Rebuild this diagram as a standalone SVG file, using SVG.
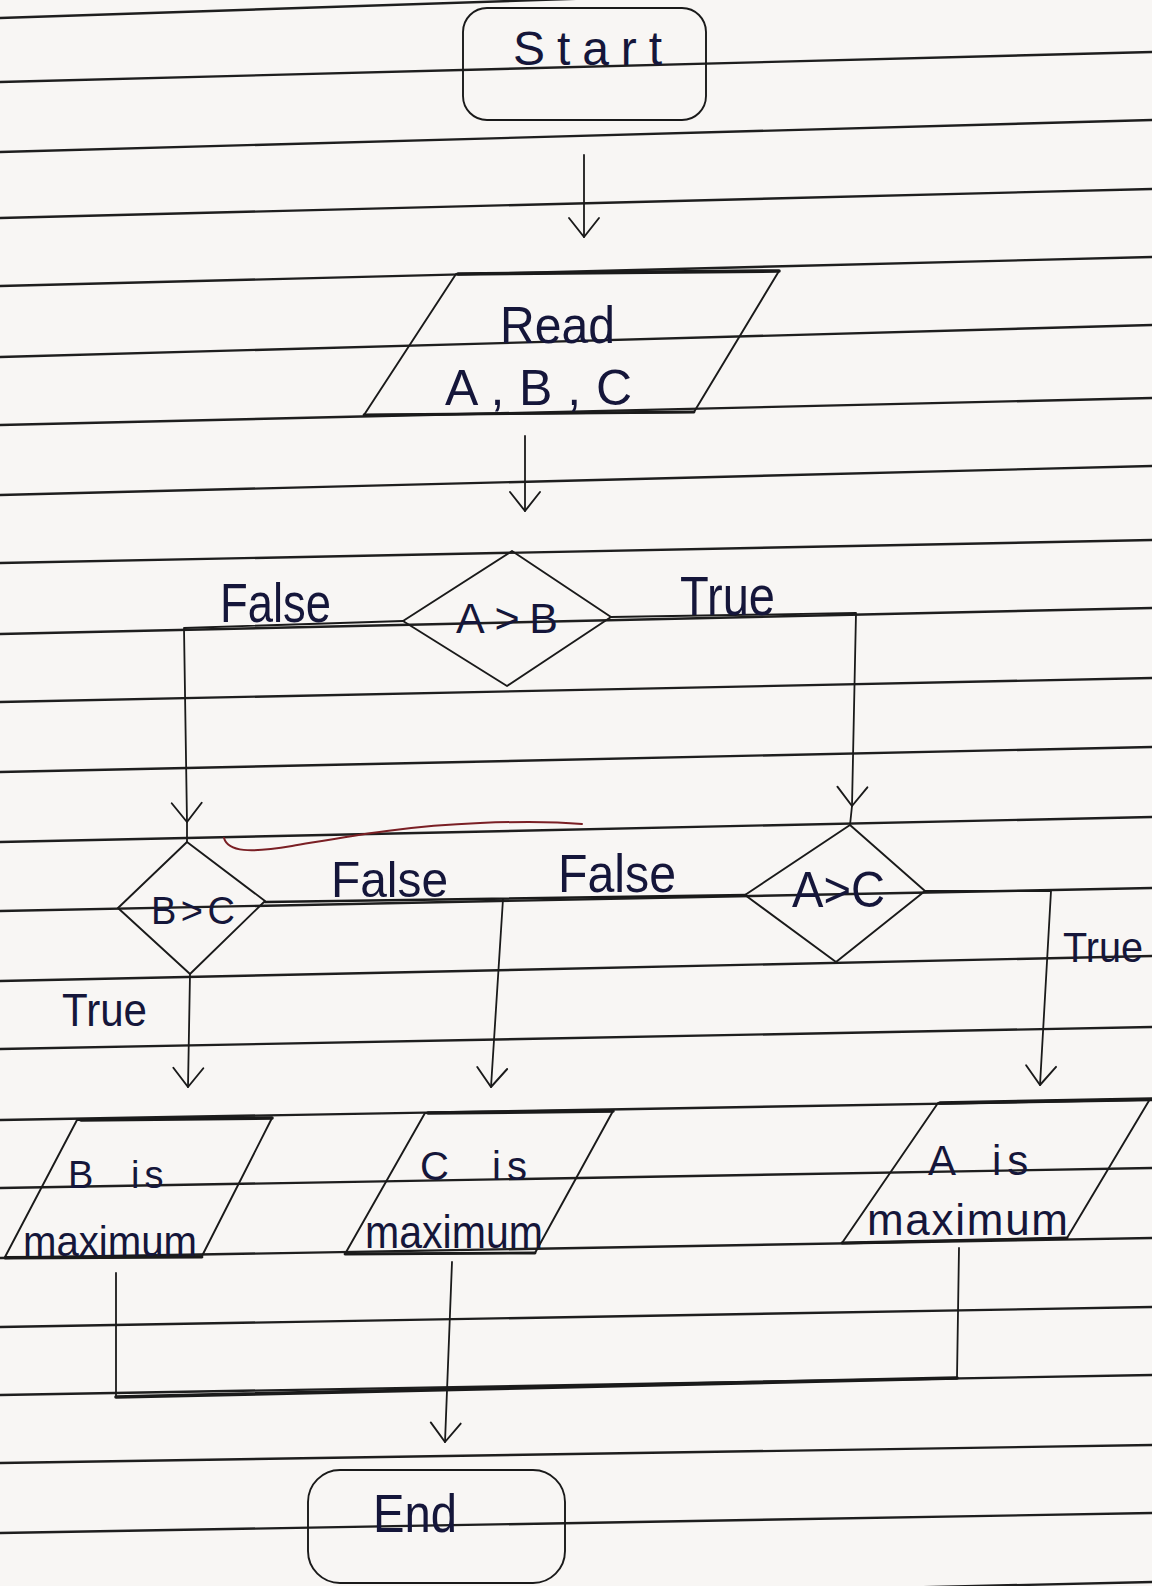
<svg xmlns="http://www.w3.org/2000/svg" width="1152" height="1586" viewBox="0 0 1152 1586">
<defs>
<style>
.rule{stroke:#1e1e1e;stroke-width:2.4;fill:none}
.ink{stroke:#1a1a1a;stroke-width:1.8;fill:none;stroke-linejoin:round;stroke-linecap:round}
.shape{stroke:#1a1a1a;stroke-width:1.9;fill:none;stroke-linejoin:round}
.heavy{stroke:#1a1a1a;stroke-width:3.6;fill:none;stroke-linecap:round}
.txt{font-family:"Liberation Sans","DejaVu Sans",sans-serif;fill:#15163a}
.stray{stroke:#7a1f24;stroke-width:2;fill:none;stroke-linecap:round}
</style>
<marker id="v" markerUnits="userSpaceOnUse" markerWidth="44" markerHeight="44" viewBox="-22 -22 44 44" refX="0" refY="0" orient="auto">
<path d="M-19,-15 L0,0 L-19,15" fill="none" stroke="#1a1a1a" stroke-width="1.9" stroke-linejoin="round" stroke-linecap="round"/>
</marker>
</defs>
<rect x="0" y="0" width="1152" height="1586" fill="#f8f6f4"/>
<g id="paper-rules">
<line class="rule" x1="0" y1="18" x2="600" y2="-2"/>
<line class="rule" x1="0" y1="82" x2="1152" y2="52"/>
<line class="rule" x1="0" y1="152" x2="1152" y2="120"/>
<line class="rule" x1="0" y1="218" x2="1152" y2="189"/>
<line class="rule" x1="0" y1="286" x2="1152" y2="257"/>
<line class="rule" x1="0" y1="357" x2="1152" y2="325"/>
<line class="rule" x1="0" y1="425" x2="1152" y2="398"/>
<line class="rule" x1="0" y1="495" x2="1152" y2="466"/>
<line class="rule" x1="0" y1="563" x2="1152" y2="540"/>
<line class="rule" x1="0" y1="634" x2="1152" y2="608"/>
<line class="rule" x1="0" y1="702" x2="1152" y2="678"/>
<line class="rule" x1="0" y1="772" x2="1152" y2="747"/>
<line class="rule" x1="0" y1="842" x2="1152" y2="817"/>
<line class="rule" x1="0" y1="911" x2="1152" y2="888"/>
<line class="rule" x1="0" y1="981" x2="1152" y2="956"/>
<line class="rule" x1="0" y1="1049" x2="1152" y2="1027"/>
<line class="rule" x1="0" y1="1120" x2="1152" y2="1100"/>
<line class="rule" x1="0" y1="1188" x2="1152" y2="1168"/>
<line class="rule" x1="0" y1="1258" x2="1152" y2="1238"/>
<line class="rule" x1="0" y1="1327" x2="1152" y2="1307"/>
<line class="rule" x1="0" y1="1395" x2="1152" y2="1375"/>
<line class="rule" x1="0" y1="1463" x2="1152" y2="1445"/>
<line class="rule" x1="0" y1="1533" x2="1152" y2="1513"/>
<line class="rule" x1="800" y1="1590" x2="1152" y2="1582"/>
</g>
<path class="stray" d="M224,838 C228,852 250,853 292,846 C340,838 400,826 480,823 C530,821 560,822 582,824"/>
<g id="connectors">
<line class="ink" x1="584" y1="155" x2="584" y2="237" marker-end="url(#v)"/>
<line class="ink" x1="525" y1="436" x2="525" y2="511" marker-end="url(#v)"/>
<polyline class="ink" points="403,621 184,628 187,822" marker-end="url(#v)"/>
<line class="ink" x1="187" y1="822" x2="187" y2="842"/>
<polyline class="ink" points="611,617 856,613 852,806" marker-end="url(#v)"/>
<line class="ink" x1="852" y1="806" x2="850" y2="825"/>
<line class="heavy" x1="265" y1="902" x2="746" y2="895" style="stroke-width:2.6"/>
<line class="ink" x1="503" y1="899" x2="491" y2="1087" marker-end="url(#v)"/>
<polyline class="ink" points="925,891 1051,891 1040,1085" marker-end="url(#v)"/>
<line class="ink" x1="190" y1="974" x2="188" y2="1087" marker-end="url(#v)"/>
<line class="ink" x1="116" y1="1273" x2="116" y2="1397"/>
<line class="ink" x1="959" y1="1248" x2="957" y2="1378"/>
<line class="heavy" x1="116" y1="1397" x2="957" y2="1378"/>
<line class="ink" x1="452" y1="1262" x2="445" y2="1442" marker-end="url(#v)"/>
</g>
<g id="start">
<rect class="shape" x="463" y="8" width="243" height="112" rx="24"/>
<text class="txt" x="513" y="65" font-size="48" textLength="149" lengthAdjust="spacing">Start</text>
</g>
<g id="read">
<polygon class="shape" points="456,274 779,271 694,412 364,415"/>
<line class="heavy" x1="458" y1="274" x2="779" y2="271"/>
<line class="heavy" x1="364" y1="415" x2="694" y2="412" style="stroke-width:2.8"/>
<text class="txt" x="500" y="343" font-size="52" textLength="115" lengthAdjust="spacingAndGlyphs">Read</text>
<text class="txt" x="445" y="405" font-size="50" textLength="187" lengthAdjust="spacing">A , B , C</text>
</g>
<g id="a-gt-b">
<polygon class="shape" points="512,551 611,617 507,686 403,621"/>
<text class="txt" x="456" y="633" font-size="43" textLength="102" lengthAdjust="spacing">A&gt;B</text>
</g>
<g id="b-gt-c">
<polygon class="shape" points="187,842 265,901 190,974 118,908"/>
<text class="txt" x="151" y="924" font-size="38" textLength="84" lengthAdjust="spacing">B&gt;C</text>
</g>
<g id="a-gt-c">
<polygon class="shape" points="850,825 925,891 836,962 745,895"/>
<text class="txt" x="792" y="907" font-size="50" textLength="93" lengthAdjust="spacingAndGlyphs">A&gt;C</text>
</g>
<g id="labels">
<text class="txt" x="220" y="622" font-size="56" textLength="111" lengthAdjust="spacingAndGlyphs">False</text>
<text class="txt" x="680" y="615" font-size="56" textLength="95" lengthAdjust="spacingAndGlyphs">True</text>
<text class="txt" x="331" y="897" font-size="50" textLength="117" lengthAdjust="spacingAndGlyphs">False</text>
<text class="txt" x="558" y="892" font-size="54" textLength="118" lengthAdjust="spacingAndGlyphs">False</text>
<text class="txt" x="1063" y="962" font-size="42" textLength="80" lengthAdjust="spacingAndGlyphs">True</text>
<text class="txt" x="62" y="1026" font-size="46" textLength="85" lengthAdjust="spacingAndGlyphs">True</text>
</g>
<g id="b-max">
<polygon class="shape" points="77,1120 272,1118 202,1256 5,1257"/>
<line class="heavy" x1="81" y1="1120" x2="272" y2="1118"/>
<line class="heavy" x1="5" y1="1258" x2="202" y2="1257" style="stroke-width:2.8"/>
<text class="txt" x="68" y="1188" font-size="38">B<tspan x="131" letter-spacing="5">is</tspan></text>
<text class="txt" x="23" y="1256" font-size="42" textLength="174" lengthAdjust="spacingAndGlyphs">maximum</text>
</g>
<g id="c-max">
<polygon class="shape" points="425,1113 613,1111 535,1253 345,1254"/>
<line class="heavy" x1="428" y1="1113" x2="613" y2="1111"/>
<line class="heavy" x1="345" y1="1254" x2="535" y2="1253" style="stroke-width:2.8"/>
<text class="txt" x="420" y="1180" font-size="40">C<tspan x="492" letter-spacing="6">is</tspan></text>
<text class="txt" x="365" y="1248" font-size="46" textLength="178" lengthAdjust="spacingAndGlyphs">maximum</text>
</g>
<g id="a-max">
<polygon class="shape" points="938,1103 1150,1099 1067,1238 842,1243"/>
<line class="heavy" x1="940" y1="1103" x2="1152" y2="1099"/>
<line class="heavy" x1="842" y1="1243" x2="1067" y2="1238" style="stroke-width:2.8"/>
<text class="txt" x="928" y="1175" font-size="42">A<tspan x="992" letter-spacing="6">is</tspan></text>
<text class="txt" x="867" y="1235" font-size="44" textLength="201" lengthAdjust="spacing">maximum</text>
</g>
<g id="end">
<rect class="shape" x="308" y="1470" width="257" height="113" rx="32"/>
<text class="txt" x="373" y="1532" font-size="54" textLength="84" lengthAdjust="spacingAndGlyphs">End</text>
</g>
</svg>
